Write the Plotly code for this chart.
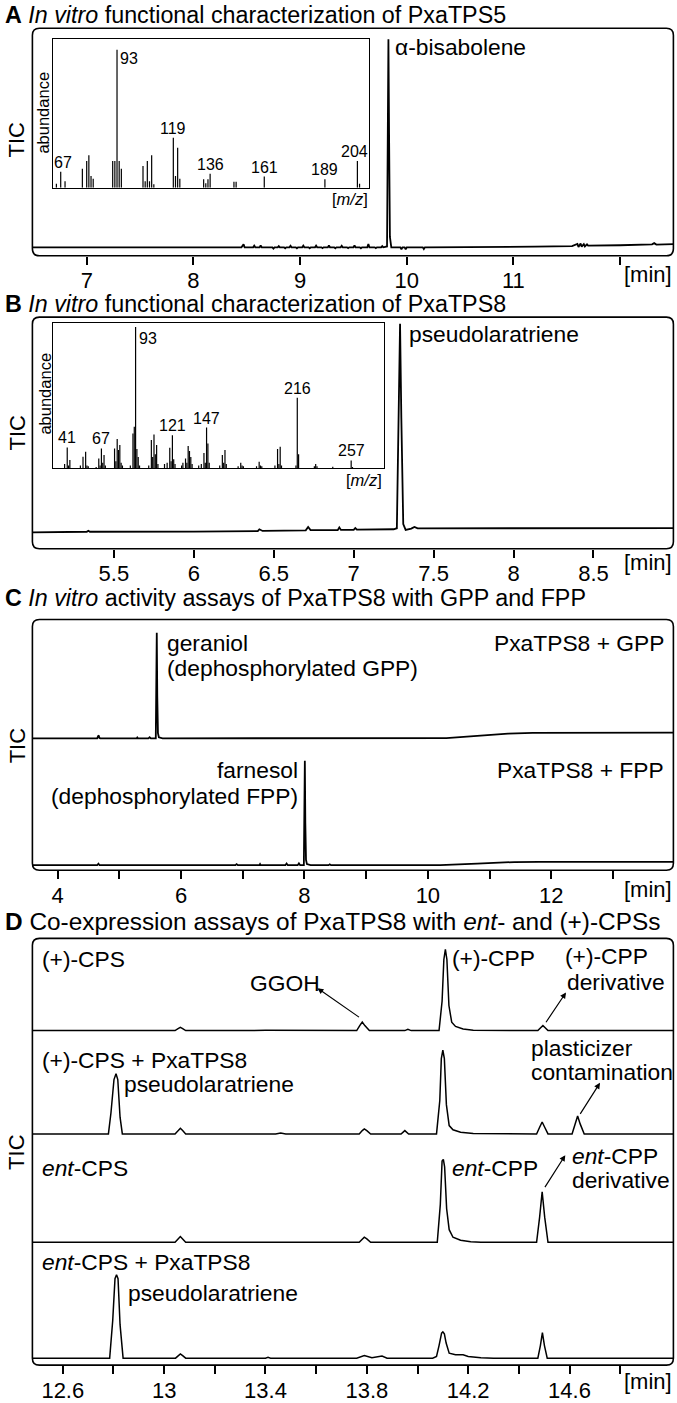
import plotly.graph_objects as go

W, H = 677, 1403
FONT = 'Liberation Sans, Arial, sans-serif'

# ---- data ----
# A: chromatogram PxaTPS5 (relative TIC)
a_rt = [6.49, 8.45, 8.47, 8.48, 8.56, 8.57, 8.58, 8.62, 8.63, 8.64, 8.74, 8.75, 8.76, 8.79, 8.8, 8.81,
        8.85, 8.86, 8.87, 8.9, 8.91, 8.92, 8.96, 8.97, 8.98, 9.02, 9.03, 9.04, 9.08, 9.09, 9.1, 9.14, 9.15,
        9.16, 9.2, 9.21, 9.22, 9.26, 9.27, 9.28, 9.32, 9.33, 9.34, 9.38, 9.39, 9.4, 9.44, 9.45, 9.46,
        9.5, 9.51, 9.52, 9.56, 9.57, 9.58, 9.63, 9.64, 9.65, 9.7, 9.71, 9.72, 9.76, 9.77, 9.78,
        9.815, 9.822, 9.828, 9.834, 9.842, 9.855, 9.94, 9.95, 9.96, 9.98, 9.99, 10.0, 10.15, 10.16, 10.17,
        11.2, 11.55, 11.6, 11.61, 11.63, 11.64, 11.66, 11.67, 11.69, 11.7, 12.0, 12.3, 12.32, 12.34, 12.5]
a_tic = [0, 0, 1.4, 0, 0, 0.8, 0, 0, 0.9, 0, 0, -0.6, 0, 0, 0.6, 0,
         0, -0.5, 0, 0, 0.7, 0, 0, -0.5, 0, 0, 0.8, 0, 0, -0.5, 0, 0, 0.8,
         0, 0, -0.4, 0, 0, 0.9, 0, 0, -0.5, 0, 0, 0.7, 0, 0, -0.4, 0,
         0, 0.9, 0, 0, -0.5, 0, 0, 1.6, 0, 0, -0.4, 0, 0, 0.6, 0,
         0.4, 50, 100, 55, 5, 0, 0, -1, 0, 0, -1, 0, 0, -0.8, 0,
         0.3, 0.6, 1.6, 0.2, 1.8, 0.3, 1.5, 0.4, 1.4, 0.8, 1.0, 1.4, 2, 1.3, 1.5]
a_mz = [65, 67, 69, 77, 79, 80, 81, 82, 91, 92, 93, 94, 95, 105, 106, 107, 108, 109, 110,
        119, 120, 121, 122, 133, 134, 135, 136, 147, 148, 161, 189, 204, 205]
a_ab = [2.9, 11.6, 4.6, 13.7, 19.3, 23.4, 8.4, 6.5, 19.3, 19.3, 100, 19.3, 13.7, 15.7, 4.6, 19.3, 4.6, 23.4, 2.4,
        36.1, 8.4, 28.9, 6.5, 6, 3.1, 6, 10.1, 4.3, 4.3, 8, 6, 19.3, 2.9]
a_lab = [67, 93, 119, 136, 161, 189, 204]

# B: chromatogram PxaTPS8
b_rt = [4.99, 5.33, 5.34, 5.35, 6.0, 6.4, 6.41, 6.43, 6.7, 6.715, 6.73, 6.9, 6.91, 6.92, 7.0, 7.01, 7.02,
        7.25, 7.27, 7.28, 7.29, 7.298, 7.31, 7.325, 7.36, 7.38, 7.4, 8.0, 9.0]
b_tic = [0, 0.3, 0.8, 0.3, 0.4, 0.6, 1.5, 0.7, 1.0, 2.6, 1.1, 1.1, 2.4, 1.2, 1.2, 2.1, 1.3,
         1.5, 2, 45, 100, 55, 4, 1.2, 1.8, 2.6, 1.9, 2, 2.05]
b_mz = [39, 41, 42, 43, 51, 53, 55, 56, 57, 63, 65, 66, 67, 68, 69, 70, 77, 78, 79, 80, 81, 82, 83,
        89, 91, 92, 93, 94, 95, 96, 103, 105, 106, 107, 108, 109, 110, 115, 117, 119, 120, 121, 122, 123,
        128, 129, 131, 132, 133, 134, 135, 136, 141, 143, 145, 146, 147, 148, 149, 157, 159, 160, 161, 162,
        171, 173, 174, 175, 185, 187, 188, 189, 199, 201, 202, 203, 204, 215, 216, 217, 229, 230, 231,
        243, 257, 258]
b_ab = [3, 14.8, 2, 5.9, 2, 8.2, 11.8, 2, 1.5, 1, 7, 2, 14.1, 4, 9.4, 2, 14.1, 5, 20.7, 12.9, 16.5, 4, 2,
        2, 24.7, 29.4, 100, 13.6, 8, 2, 2, 20, 8, 24, 10, 16.5, 3, 3, 4, 14.6, 5, 23.5, 6.4, 3,
        2, 4, 7, 4, 15.8, 12.2, 8, 3, 2, 3, 10.8, 4, 28.9, 17.6, 4, 2, 9.4, 4, 12.9, 3,
        1.5, 4, 2, 1.5, 1.5, 4.7, 2, 1.5, 2, 13.6, 3, 15.3, 2, 2, 49.9, 9.9, 1.5, 3, 1.5,
        1.2, 5.6, 1]
b_lab = [41, 67, 93, 121, 147, 216, 257]

# C: PxaTPS8 + GPP / + FPP
c1_rt = [3.59, 4.64, 4.655, 4.665, 4.675, 4.69, 5.28, 5.29, 5.3, 5.47, 5.49, 5.51, 5.59, 5.598, 5.606,
         5.614, 5.625, 5.64, 5.7, 10.3, 10.8, 11.3, 11.7, 12.5, 14.0]
c1_tic = [0, 0, 2, 2.8, 0.5, 0, 0, 0.8, 0, 0, 1, 0, 0, 45, 100, 40, 5, 1, 0, 0.3, 2.5, 4.5, 5.2, 5.4, 5.4]
c2_rt = [3.59, 4.64, 4.66, 4.68, 6.88, 6.9, 6.92, 7.27, 7.28, 7.29, 7.69, 7.71, 7.73, 7.89, 7.91, 7.93,
         7.99, 7.998, 8.006, 8.014, 8.025, 8.04, 8.1, 8.39, 8.41, 8.43, 10.2, 10.8, 11.4, 11.8, 14.0]
c2_tic = [0, 0, 1.4, 0, 0, 1, 0, 0, 1, 0, 0, 1.6, 0, 0, 1.8, 0,
          0, 45, 99, 40, 5, 1, 0, 0, 0.8, 0, 0, 1.5, 3, 3.2, 3.2]

# D: co-expression assays
d1_rt = [12.48, 12.8, 13.043, 13.055, 13.064, 13.073, 13.085, 13.4, 13.76, 13.772, 13.782, 13.792, 13.81,
         13.95, 13.962, 13.975, 14.085, 14.097, 14.104, 14.11, 14.116, 14.124, 14.135, 14.15, 14.18, 14.22,
         14.475, 14.486, 14.495, 14.504, 14.515, 15.01]
d1_tic = [0, 0.3, 0, 2.5, 3.9, 2.5, 0, 0.3, 0, 6, 10.2, 6, 0,
          0, 1.5, 0, 0, 35, 85, 97, 85, 30, 10, 5, 2, 0.5,
          0, 3.5, 6, 3.5, 0, 0]
d2_rt = [12.48, 12.78, 12.79, 12.802, 12.81, 12.817, 12.826, 12.835, 13.043, 13.055, 13.064, 13.073, 13.085,
         13.44, 13.46, 13.48, 13.77, 13.782, 13.79, 13.8, 13.815, 13.935, 13.95, 13.965,
         14.075, 14.088, 14.094, 14.1, 14.106, 14.114, 14.125, 14.14, 14.17, 14.22,
         14.47, 14.482, 14.492, 14.502, 14.515, 14.61, 14.622, 14.632, 14.642, 14.658, 15.01]
d2_tic = [0, 0, 25, 65, 72, 65, 20, 0, 0, 4, 6.8, 4, 0,
          0, 1, 0, 0, 4, 6, 4, 0, 0, 4, 0,
          0, 40, 90, 100, 90, 35, 10, 5, 2, 0.5,
          0, 8, 14.3, 8, 0, 0, 12, 21.4, 12, 0, 0]
d3_rt = [12.48, 12.79, 12.8, 12.81, 13.043, 13.055, 13.064, 13.073, 13.085, 13.77, 13.782, 13.79, 13.8, 13.815,
         14.078, 14.09, 14.097, 14.102, 14.107, 14.115, 14.125, 14.14, 14.17, 14.21, 14.25,
         14.47, 14.482, 14.492, 14.502, 14.515, 15.01]
d3_tic = [0, 0, 0.8, 0, 0, 4, 6.8, 4, 0, 0, 4, 6, 4, 0,
          0, 45, 97, 99, 90, 40, 15, 6, 2.5, 0.5, 0,
          0, 30, 60.4, 30, 0, 0]
d4_rt = [12.48, 12.785, 12.797, 12.806, 12.812, 12.818, 12.826, 12.838, 13.045, 13.057, 13.064, 13.073, 13.085,
         13.4, 13.41, 13.42, 13.76, 13.79, 13.82, 13.86, 13.88,
         14.06, 14.075, 14.085, 14.095, 14.1, 14.106, 14.113, 14.125, 14.15, 14.18, 14.2, 14.25, 14.3,
         14.475, 14.485, 14.493, 14.501, 14.512, 15.01]
d4_tic = [0, 0, 45, 95, 99.6, 95, 40, 0, 0, 3, 5.1, 3, 0,
          0, 1, 0, 0, 3.2, 0.5, 2.4, 0,
          0, 2, 15, 30, 31.3, 29, 18, 6, 4, 4, 2, 0.5, 0,
          0, 15, 30.6, 15, 0, 0]

# tick labels
a_ticks = [7, 8, 9, 10, 11, 12]
a_ticktext = ['7', '8', '9', '10', '11', '']
b_ticks = [5.5, 6, 6.5, 7, 7.5, 8, 8.5]
b_ticktext = ['5.5', '6', '6.5', '7', '7.5', '8', '8.5']
c_ticks = [4, 5, 6, 7, 8, 9, 10, 11, 12, 13]
c_ticktext = ['4', '', '6', '', '8', '', '10', '', '12', '']
d_ticks = [12.6, 12.8, 13.0, 13.2, 13.4, 13.6, 13.8, 14.0, 14.2, 14.4, 14.6, 14.8]
d_ticktext = ['12.6', '', '13', '', '13.4', '', '13.8', '', '14.2', '', '14.6', '']


def fx(p):
    return p / W


def fy(p):
    return 1 - p / H


def yrng(top, bottom, base, ppu):
    return [-(bottom - base) / ppu, (base - top) / ppu]


def sticks(mz, ab):
    xs, ys = [], []
    for m, a in zip(mz, ab):
        xs += [m, m, None]
        ys += [0, a, None]
    return xs, ys


L, R = 32.4, 673.4
boxes = {'A': (28.3, 256.7), 'B': (318.3, 550.7), 'C': (621.7, 873.3), 'D': (941.7, 1370)}


def rbox(top, bottom, r=7):
    x0, x1 = L, R
    pts = [('M', x0 + r, top), ('L', x1 - r, top), ('Q', x1, top, x1, top + r), ('L', x1, bottom - r),
           ('Q', x1, bottom, x1 - r, bottom), ('L', x0 + r, bottom), ('Q', x0, bottom, x0, bottom - r),
           ('L', x0, top + r), ('Q', x0, top, x0 + r, top)]
    s = ''
    for p in pts:
        nums = p[1:]
        seg = ['%.5f,%.5f' % (fx(nums[i]), fy(nums[i + 1])) for i in range(0, len(nums), 2)]
        s += p[0] + ' ' + ' '.join(seg) + ' '
    return s + 'Z'


fig = go.Figure()
ln = dict(color='black', width=1.8)
lnd = dict(color='black', width=1.5)
ls = dict(color='black', width=1.2)

sa_x, sa_y = sticks(a_mz, a_ab)
sb_x, sb_y = sticks(b_mz, b_ab)

fig.add_trace(go.Scatter(x=a_rt, y=a_tic, mode='lines', line=ln, xaxis='x', yaxis='y'))
fig.add_trace(go.Scatter(x=sa_x, y=sa_y, mode='lines', line=ls, xaxis='x2', yaxis='y2'))
fig.add_trace(go.Scatter(x=b_rt, y=b_tic, mode='lines', line=ln, xaxis='x3', yaxis='y3'))
fig.add_trace(go.Scatter(x=sb_x, y=sb_y, mode='lines', line=ls, xaxis='x4', yaxis='y4'))
fig.add_trace(go.Scatter(x=c1_rt, y=c1_tic, mode='lines', line=ln, xaxis='x5', yaxis='y5'))
fig.add_trace(go.Scatter(x=c2_rt, y=c2_tic, mode='lines', line=ln, xaxis='x5', yaxis='y6'))
fig.add_trace(go.Scatter(x=d1_rt, y=d1_tic, mode='lines', line=lnd, xaxis='x6', yaxis='y7'))
fig.add_trace(go.Scatter(x=d2_rt, y=d2_tic, mode='lines', line=lnd, xaxis='x6', yaxis='y8'))
fig.add_trace(go.Scatter(x=d3_rt, y=d3_tic, mode='lines', line=lnd, xaxis='x6', yaxis='y9'))
fig.add_trace(go.Scatter(x=d4_rt, y=d4_tic, mode='lines', line=lnd, xaxis='x6', yaxis='y10'))

xdom = [fx(L), fx(R)]


def xax(rng, tv, tt, anchor):
    return dict(domain=xdom, range=rng, anchor=anchor, tickvals=tv, ticktext=tt, ticks='outside',
                ticklen=8, tickwidth=1.5, tickcolor='black', showgrid=False, zeroline=False,
                showline=False, ticklabelstandoff=-3, tickfont=dict(size=22, family=FONT, color='black'))


def yax(key, base, ppu, **kw):
    t, b = boxes[key]
    d = dict(domain=[fy(b), fy(t)], range=yrng(t, b, base, ppu), visible=False, fixedrange=True)
    d.update(kw)
    return d


def inset(xd, yd, rng_x, rng_y, xa, ya):
    common = dict(showline=True, mirror=True, linecolor='black', linewidth=1.3, showticklabels=False,
                  ticks='', showgrid=False, zeroline=False)
    return dict(domain=xd, range=rng_x, anchor=ya, **common), dict(domain=yd, range=rng_y, anchor=xa, **common)


ia_x, ia_y = inset([fx(52.7), fx(369.3)], [fy(188.3), fy(39.3)], [63.3, 209.5], [0, 107.7], 'x2', 'y2')
ib_x, ib_y = inset([fx(53.3), fx(384.3)], [fy(470), fy(324)], [30.4, 282.2], [0, 103], 'x4', 'y4')

fig.update_layout(
    width=W, height=H, margin=dict(l=0, r=0, t=0, b=0),
    paper_bgcolor='white', plot_bgcolor='rgba(0,0,0,0)', showlegend=False,
    font=dict(family=FONT, color='black'),
    xaxis=xax([6.49, 12.5], a_ticks, a_ticktext, 'y'),
    yaxis=yax('A', 248.2, 2.087, anchor='x'),
    xaxis2=ia_x, yaxis2=ia_y,
    xaxis3=xax([4.99, 9.0], b_ticks, b_ticktext, 'y3'),
    yaxis3=yax('B', 534.3, 2.093, anchor='x3'),
    xaxis4=ib_x, yaxis4=ib_y,
    xaxis5=xax([3.59, 13.98], c_ticks, c_ticktext, 'y5'),
    yaxis5=yax('C', 741, 1.06, anchor='x5'),
    yaxis6=yax('C', 868.3, 1.06, overlaying='y5', anchor='x5'),
    xaxis6=xax([12.48, 15.01], d_ticks, d_ticktext, 'y7'),
    yaxis7=yax('D', 1034.3, 0.84, anchor='x6'),
    yaxis8=yax('D', 1138, 0.84, overlaying='y7', anchor='x6'),
    yaxis9=yax('D', 1246.7, 0.84, overlaying='y7', anchor='x6'),
    yaxis10=yax('D', 1363, 0.84, overlaying='y7', anchor='x6'),
)

for k, (t, b) in boxes.items():
    fig.add_shape(type='path', path=rbox(t, b), xref='paper', yref='paper',
                  line=dict(color='black', width=1.6), layer='above')

anns = []
LAB = 22.8
TTL = 23.3


def txt(s, x, y, xa='left', size=LAB, angle=0):
    anns.append(dict(text=s, x=fx(x), y=fy(y), xref='paper', yref='paper', xanchor=xa, yanchor='middle',
                     showarrow=False, textangle=angle, font=dict(size=size, family=FONT, color='black')))


# panel titles
txt('<b>A</b> <i>In vitro</i> functional characterization of PxaTPS5', 3, 15, size=TTL)
txt('<b>B</b> <i>In vitro</i> functional characterization of PxaTPS8', 3, 305, size=TTL)
txt('<b>C</b> <i>In vitro</i> activity assays of PxaTPS8 with GPP and FPP', 3, 600, size=TTL)
txt('<b>D</b> Co-expression assays of PxaTPS8 with <i>ent</i>- and (+)-CPSs', 3, 925, size=24.4)

# y titles
for yy in (140, 434, 748, 1156):
    txt('TIC', 17, yy, xa='center', size=22, angle=-90)

# x unit
for yy in (275, 565, 893, 1386):
    txt('[min]', 674, yy, xa='right', size=22)

# A
txt('α-bisabolene', 393, 47)
txt('abundance', 43, 113, xa='center', size=16.5, angle=-90)
txt('[<i>m/z</i>]', 369.5, 200, xa='right', size=16.5)
# B
txt('pseudolaratriene', 407, 335)
txt('abundance', 45, 395, xa='center', size=16.5, angle=-90)
txt('[<i>m/z</i>]', 384, 482, xa='right', size=16.5)
# C
txt('geraniol', 165, 645)
txt('(dephosphorylated GPP)', 165, 670)
txt('PxaTPS8 + GPP', 666, 645, xa='right')
txt('farnesol', 300, 773, xa='right')
txt('(dephosphorylated FPP)', 300, 799, xa='right')
txt('PxaTPS8 + FPP', 666, 773, xa='right')
# D
txt('(+)-CPS', 40, 962)
txt('GGOH', 248, 987)
txt('(+)-CPP', 450, 961)
txt('(+)-CPP', 563, 959)
txt('derivative', 565, 986)
txt('(+)-CPS + PxaTPS8', 40, 1064)
txt('pseudolaratriene', 122, 1088)
txt('plasticizer', 529, 1052)
txt('contamination', 529, 1076)
txt('<i>ent</i>-CPS', 40, 1172)
txt('<i>ent</i>-CPP', 450, 1172)
txt('<i>ent</i>-CPP', 570, 1160)
txt('derivative', 570, 1184)
txt('<i>ent</i>-CPS + PxaTPS8', 40, 1267)
txt('pseudolaratriene', 126, 1298)


# inset peak labels
def ilab(xr, yr, mz, h, dx=0, left=False):
    if left:
        anns.append(dict(text=str(mz), x=mz + dx, y=h, xref=xr, yref=yr, xanchor='left', yanchor='top',
                         showarrow=False, font=dict(size=16, family=FONT, color='black')))
    else:
        anns.append(dict(text=str(mz), x=mz + dx, y=h, xref=xr, yref=yr, xanchor='center', yanchor='bottom',
                         showarrow=False, yshift=-1, font=dict(size=16, family=FONT, color='black')))


for mz in a_lab:
    h = a_ab[a_mz.index(mz)]
    if mz == 93:
        ilab('x2', 'y2', mz, h + 1, dx=0.6, left=True)
    else:
        ilab('x2', 'y2', mz, h, dx={67: 1, 204: -1.5}.get(mz, 0))
for mz in b_lab:
    h = b_ab[b_mz.index(mz)]
    if mz == 93:
        ilab('x4', 'y4', mz, h - 1, dx=0.8, left=True)
    else:
        ilab('x4', 'y4', mz, h)

# arrows (head near the text, tail near the peak)
for hx, hy, tx, ty in [(317.4, 991.7, 360.5, 1021.7), (566, 996, 545, 1027.3),
                       (600, 1086.7, 579.3, 1119.3), (565.3, 1159.3, 544, 1192.7)]:
    anns.append(dict(text='', x=fx(hx), y=fy(hy), xref='paper', yref='paper', ax=tx - hx, ay=ty - hy,
                     showarrow=True, arrowhead=2, arrowsize=1, arrowwidth=1.2, arrowcolor='black',
                     standoff=0, startstandoff=0))

fig.update_layout(annotations=anns)
fig.write_html('out.html', config={'displayModeBar': False},
               post_script="document.body.style.margin='0';document.body.style.overflow='hidden';")
